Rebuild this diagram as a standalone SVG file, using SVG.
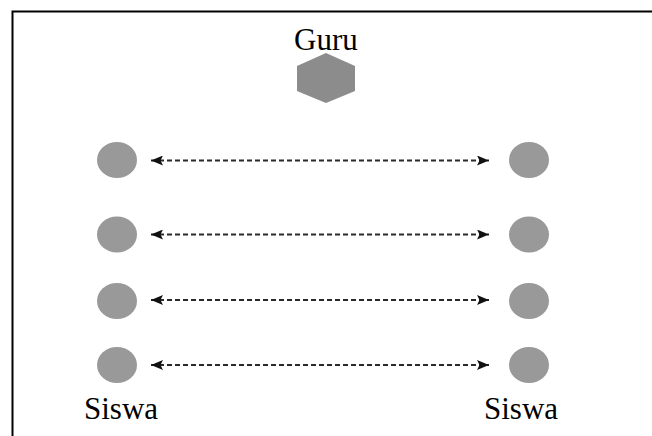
<svg xmlns="http://www.w3.org/2000/svg" width="652" height="436" viewBox="0 0 652 436">
<style>
.lbl{font-family:"Liberation Serif","Times New Roman",serif;font-size:31px;fill:#000}
.stu{fill:#999999}
.conn line{stroke:#2a2a2a;stroke-width:1.8;stroke-dasharray:5 3;marker-start:url(#ah);marker-end:url(#ah)}
</style>
<defs>
<marker id="ah" viewBox="0 0 12 10" refX="12" refY="5" markerWidth="12" markerHeight="10" markerUnits="userSpaceOnUse" orient="auto-start-reverse">
<path d="M0,0 L12,5 L0,10 L2.5,5 Z" fill="#111"/>
</marker>
</defs>
<rect width="652" height="436" fill="#fff"/>
<g id="frame" stroke="#000" stroke-width="2" fill="none">
<path d="M12.5,436 V11.5 H652"/>
</g>
<g id="guru">
<text class="lbl" x="294" y="50">Guru</text>
<polygon points="326,53 355,66 355,91 326,103 297,91 297,66" fill="#8c8c8c"/>
</g>
<g id="s-l1"><ellipse class="stu" cx="117" cy="160" rx="20" ry="18"/></g>
<g id="s-l2"><ellipse class="stu" cx="117" cy="234.5" rx="20" ry="18"/></g>
<g id="s-l3"><ellipse class="stu" cx="117" cy="301" rx="20" ry="18"/></g>
<g id="s-l4"><ellipse class="stu" cx="117" cy="365" rx="20" ry="18"/></g>
<g id="s-r1"><ellipse class="stu" cx="529" cy="160" rx="20" ry="18"/></g>
<g id="s-r2"><ellipse class="stu" cx="529" cy="234.5" rx="20" ry="18"/></g>
<g id="s-r3"><ellipse class="stu" cx="529" cy="301" rx="20" ry="18"/></g>
<g id="s-r4"><ellipse class="stu" cx="529" cy="365" rx="20" ry="18"/></g>
<g id="lbl-left"><text class="lbl" x="84" y="419">Siswa</text></g>
<g id="lbl-right"><text class="lbl" x="484" y="419">Siswa</text></g>
<g class="conn" id="connectors">
<line x1="151" y1="160.5" x2="489" y2="160.5"/>
<line x1="151" y1="234.5" x2="489" y2="234.5"/>
<line x1="151" y1="300" x2="489" y2="300"/>
<line x1="151" y1="365" x2="489" y2="365"/>
</g>
</svg>
